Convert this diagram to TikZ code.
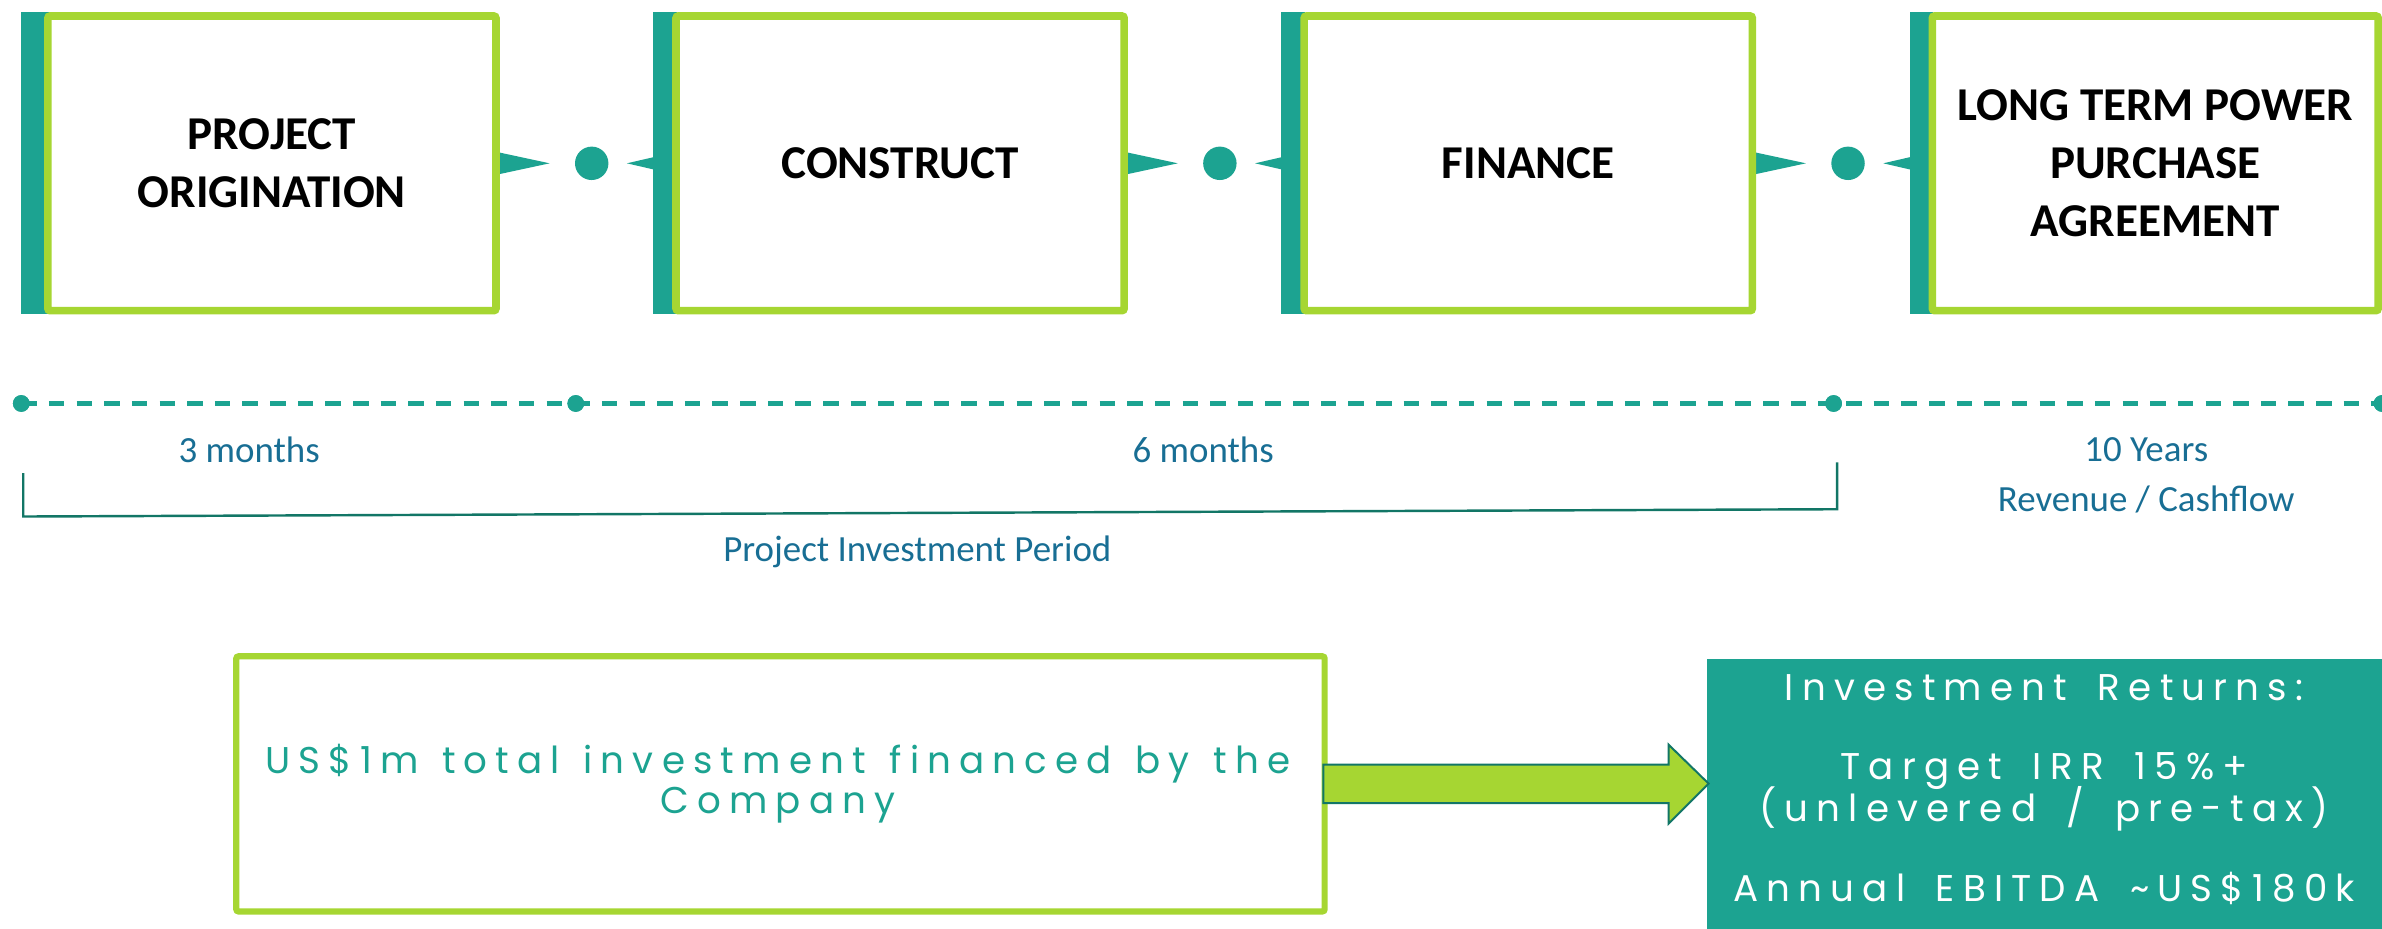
\documentclass[tikz,border=0pt]{standalone}
\usepackage{fontspec}
\setmainfont{Carlito}
\newfontfamily\poppfont[LetterSpace=22,WordSpace=1.6]{Poppins}
\newfontfamily\poppinvfont[LetterSpace=22,WordSpace=1.3]{Poppins}
\usetikzlibrary{calc}
\definecolor{tealc}{RGB}{28,163,145}
\definecolor{limec}{RGB}{166,214,50}
\definecolor{bluet}{RGB}{24,110,148}
\definecolor{darkt}{RGB}{18,118,102}
\begin{document}
\begin{tikzpicture}[x=1pt,y=-1pt,
  stagebox/.style={draw=limec, line width=5pt, fill=white, rounded corners=1.5pt,
    minimum width=295pt, minimum height=194pt, inner sep=0pt, outer sep=0pt,
    align=center, font=\fontsize{31}{38}\selectfont\bfseries},
  tealbar/.style={fill=tealc},
  tabtri/.style={fill=tealc},
  linkdot/.style={circle, fill=tealc, minimum size=22pt, inner sep=0pt, outer sep=0pt},
  tdot/.style={circle, fill=tealc, minimum size=11pt, inner sep=0pt, outer sep=0pt},
  tlabel/.style={anchor=base, text=bluet, font=\fontsize{24.3}{29}\selectfont, inner sep=0pt},
  bracketline/.style={draw=darkt, line width=1.6pt},
  timeline/.style={draw=tealc, line width=3.2pt, dash pattern=on 10.2pt off 8pt},
  invbox/.style={draw=limec, line width=4pt, fill=white, rounded corners=1.5pt,
    minimum width=716.5pt, minimum height=168pt, inner sep=0pt, outer sep=0pt},
  invtext/.style={anchor=base, text=tealc, font=\fontsize{24.5}{28}\poppinvfont, inner sep=0pt},
  retbox/.style={fill=tealc, minimum width=444.6pt, minimum height=177.6pt, inner sep=0pt, outer sep=0pt},
  rettext/.style={anchor=base, text=white, font=\fontsize{24.5}{28}\poppfont, inner sep=0pt},
  blockarrow/.style={fill=limec, draw=darkt, line width=1.3pt, line join=miter}
]
\useasboundingbox (0,0) rectangle (1568,611.5);
\clip (0,0) rectangle (1568,611.5);

% tabs behind boxes
\fill[tabtri] (326,99.8) -- (361.8,107.5) -- (326,115.2) -- cycle;
\fill[tabtri] (412.7,107.5) -- (446,99.8) -- (446,115.2) -- cycle;
\fill[tabtri] (739.5,99.8) -- (775.3,107.5) -- (739.5,115.2) -- cycle;
\fill[tabtri] (826.2,107.5) -- (859.5,99.8) -- (859.5,115.2) -- cycle;
\fill[tabtri] (1153,99.8) -- (1188.8,107.5) -- (1153,115.2) -- cycle;
\fill[tabtri] (1239.7,107.5) -- (1273,99.8) -- (1273,115.2) -- cycle;

% teal bars
\fill[tealbar] (13.5,8) rectangle (32,207);
\fill[tealbar] (430,8) rectangle (445.5,207);
\fill[tealbar] (843.5,8) rectangle (859,207);
\fill[tealbar] (1257,8) rectangle (1272.5,207);

% stage boxes
\node[stagebox] (b1) at (179,107.5) {PROJECT\\ORIGINATION};
\node[stagebox] (b2) at (592.5,107.5) {CONSTRUCT};
\node[stagebox] (b3) at (1006,107.5) {FINANCE};
\node[stagebox, minimum width=293.5pt] (b4) at (1418.75,107.5) {LONG TERM POWER\\PURCHASE\\AGREEMENT};

% link dots
\node[linkdot] (d1) at (389.5,107.5) {};
\node[linkdot] (d2) at (803,107.5) {};
\node[linkdot] (d3) at (1216.5,107.5) {};

% timeline
\node[tdot] (t0) at (14,265.6) {};
\node[tdot] (t1) at (379,265.6) {};
\node[tdot] (t2) at (1207,265.6) {};
\node[tdot] (t3) at (1568,265.6) {};
\draw[timeline] (t0.center) -- (t3.center);
\node[tdot] at (t0) {};
\node[tdot] at (t1) {};
\node[tdot] at (t2) {};
\node[tdot] at (t3) {};

\node[tlabel] (l3m) at (164,304.5) {3 months};
\node[tlabel] (l6m) at (792,304.5) {6 months};
\node[tlabel] (l10y) at (1412.8,303.8) {10 Years};
\node[tlabel] (lrev) at (1412.8,336.7) {Revenue / Cashflow};
\node[tlabel] (lpip) at (603.8,369.6) {Project Investment Period};

% bracket
\coordinate (bra) at (15.3,311.5);
\coordinate (brb) at (15.3,340);
\coordinate (brc) at (1209.3,335.2);
\coordinate (brd) at (1209.3,304.4);
\draw[bracketline] (bra) -- (brb) -- (brc) -- (brd);

% investment box
\node[invbox] (inv) at (513.75,516) {};
\node[invtext] (inv1) at (512,509.3) {US\$1m total investment financed by the};
\node[invtext] (inv2) at (512,535.6) {Company};

% returns box
\node[retbox] (ret) at (1345.7,522.7) {};
\node[rettext] (r1) at (1345.6,461.3) {Investment Returns:};
\node[rettext] (r2) at (1345.6,513.2) {Target IRR 15\%+};
\node[rettext] (r3) at (1345.6,540.7) {(unlevered / pre-tax)};
\node[rettext] (r4) at (1345.6,593.3) {Annual EBITDA \textasciitilde US\$180k};

% block arrow from inv to ret
\coordinate (aa) at (871.2,503.3);
\coordinate (ab) at (1098.4,503.3);
\coordinate (ac) at (1098.4,490.2);
\coordinate (ad) at (1124.7,515.8);
\coordinate (ae) at (1098.4,542.2);
\coordinate (af) at (1098.4,528.6);
\coordinate (ag) at (871.2,528.6);
\draw[blockarrow] (aa) -- (ab) -- (ac) -- (ad) -- (ae) -- (af) -- (ag) -- cycle;
\end{tikzpicture}
\end{document}
